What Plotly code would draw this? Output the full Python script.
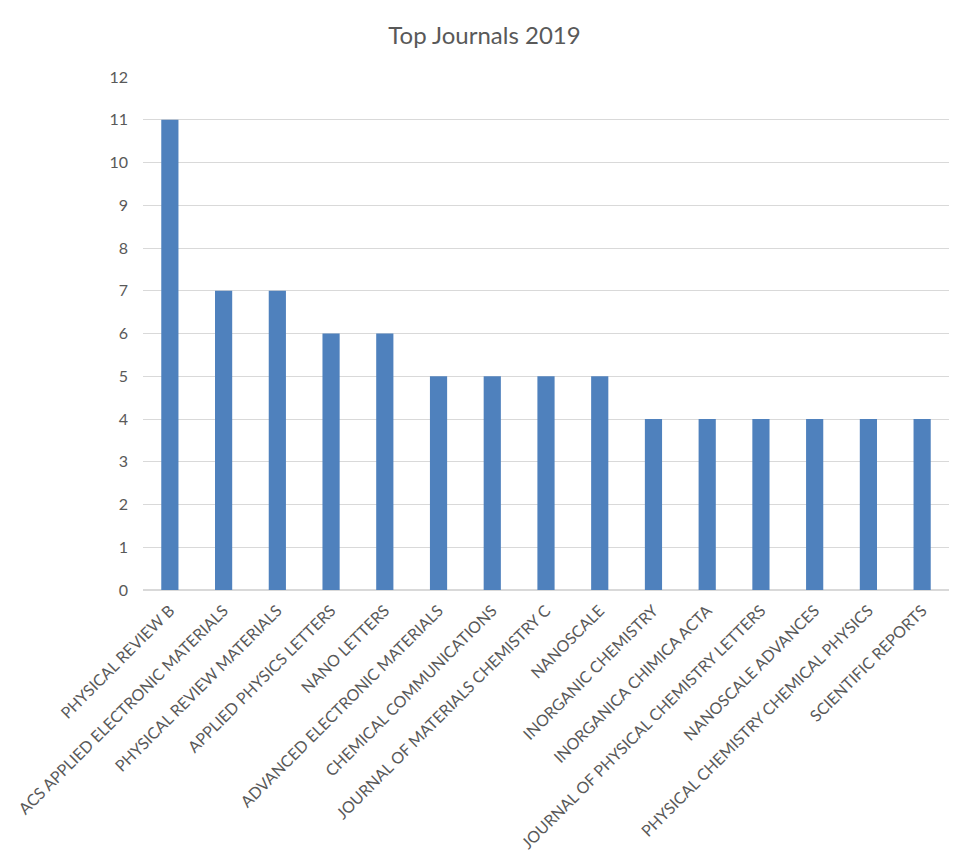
import plotly.graph_objects as go

journals = [
    "PHYSICAL REVIEW B",
    "ACS APPLIED ELECTRONIC MATERIALS",
    "PHYSICAL REVIEW MATERIALS",
    "APPLIED PHYSICS LETTERS",
    "NANO LETTERS",
    "ADVANCED ELECTRONIC MATERIALS",
    "CHEMICAL COMMUNICATIONS",
    "JOURNAL OF MATERIALS CHEMISTRY C",
    "NANOSCALE",
    "INORGANIC CHEMISTRY",
    "INORGANICA CHIMICA ACTA",
    "JOURNAL OF PHYSICAL CHEMISTRY LETTERS",
    "NANOSCALE ADVANCES",
    "PHYSICAL CHEMISTRY CHEMICAL PHYSICS",
    "SCIENTIFIC REPORTS",
]
counts = [11, 7, 7, 6, 6, 5, 5, 5, 5, 4, 4, 4, 4, 4, 4]
y_ticks = list(range(0, 13))

font_family = "Lato, Open Sans, sans-serif"
text_color = "#595959"

fig = go.Figure(
    go.Bar(
        x=journals,
        y=counts,
        marker=dict(color="#4F81BD", line=dict(width=0)),
    )
)

fig.update_layout(
    width=969,
    height=868,
    paper_bgcolor="white",
    plot_bgcolor="white",
    margin=dict(l=143, r=20, t=77, b=278),
    bargap=0.68,
    title=dict(
        text="Top Journals 2019",
        x=0.5,
        xanchor="center",
        y=1 - 36 / 868,
        yanchor="middle",
        font=dict(family=font_family, size=24, color=text_color),
    ),
    font=dict(family=font_family, size=16, color=text_color),
    showlegend=False,
)

fig.update_xaxes(
    tickangle=-45,
    showgrid=False,
    showline=True,
    linecolor="#d9d9d9",
    linewidth=1,
    ticks="",
    ticklabelstandoff=4,
    tickfont=dict(family=font_family, size=16, color=text_color),
)

fig.update_yaxes(
    range=[0, 12],
    tickvals=y_ticks,
    showgrid=True,
    gridcolor="#d9d9d9",
    gridwidth=1,
    zeroline=True,
    zerolinecolor="#d9d9d9",
    showline=False,
    ticks="",
    ticklabelstandoff=14,
    tickfont=dict(family=font_family, size=16, color=text_color),
)

fig.write_html("out.html")
